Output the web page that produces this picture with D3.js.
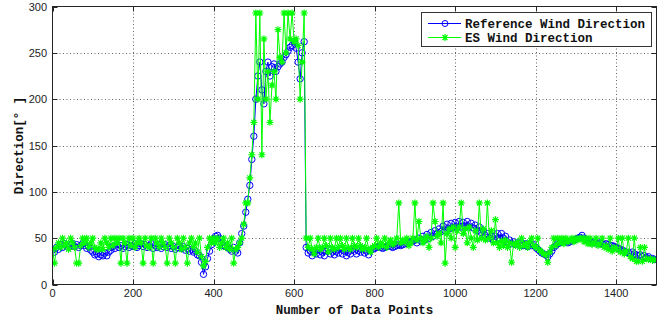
<!DOCTYPE html>
<html>
<head>
<meta charset="utf-8">
<script src="https://cdn.jsdelivr.net/npm/d3@7"></script>
<style>
  body { margin: 0; background: #fff; }
  svg { display: block; }
</style>
</head>
<body>
<svg id="chart" width="669" height="323"></svg>
<script>
// data point numbers (read every 5th point)
const pointIndex = d3.range(0, 1501, 5);

const referenceDirection = [
  37, 35, 40, 38, 43, 40, 44, 41, 40, 43, 44, 41, 43, 40, 42, 44, 42, 39, 41, 37,
  35, 32, 33, 30, 32, 31, 34, 31, 35, 37, 41, 39, 43, 40, 42, 39, 41, 43, 40, 42,
  41, 44, 40, 42, 44, 41, 43, 40, 42, 44, 39, 42, 40, 43, 39, 41, 43, 40, 42, 39,
  41, 38, 40, 42, 39, 41, 37, 39, 36, 38, 35, 36, 32, 31, 24, 11, 19, 28, 36, 43,
  48, 52, 53, 50, 45, 42, 41, 40, 38, 36, 40, 36, 34, 45, 55, 63, 78, 92, 107, 135,
  160, 200, 225, 240, 210, 195, 230, 240, 225, 235, 238, 230, 235, 238, 240, 245, 248, 252, 256, 258,
  262, 255, 240, 222, 250, 262, 40, 34, 36, 31, 35, 33, 37, 32, 35, 31, 36, 38, 33, 35,
  32, 36, 34, 38, 33, 36, 31, 35, 33, 38, 36, 33, 37, 35, 39, 34, 36, 32, 37, 38,
  39, 40, 41, 40, 39, 40, 41, 42, 41, 40, 41, 42, 43, 42, 43, 44, 45, 46, 46, 47,
  48, 45, 50, 47, 52, 48, 54, 50, 56, 52, 58, 55, 60, 57, 63, 58, 65, 60, 66, 61,
  67, 61, 68, 62, 67, 63, 68, 62, 66, 61, 64, 58, 62, 56, 58, 53, 55, 50, 52, 48,
  52, 55, 50, 55, 50, 52, 46, 48, 44, 46, 43, 45, 42, 45, 42, 44, 41, 44, 42, 43,
  40, 38, 36, 34, 33, 32, 30, 33, 36, 40, 42, 44, 45, 46, 47, 46, 45, 46, 47, 48,
  49, 50, 51, 53, 50, 48, 47, 46, 45, 46, 45, 44, 45, 44, 43, 44, 43, 42, 42, 41,
  40, 39, 38, 37, 36, 35, 34, 33, 35, 33, 32, 31, 32, 30, 31, 29, 30, 28, 28, 27,
  27
];

const esDirection = [
  38, 23, 40, 45, 40, 50, 42, 45, 38, 50, 45, 40, 23, 23, 42, 50, 45, 50, 40, 45,
  50, 40, 38, 38, 45, 38, 50, 45, 40, 50, 42, 50, 45, 50, 23, 50, 45, 23, 50, 42,
  50, 40, 45, 50, 45, 23, 50, 42, 40, 50, 23, 50, 45, 40, 50, 45, 40, 23, 50, 45,
  40, 23, 50, 45, 38, 50, 40, 23, 45, 50, 40, 45, 35, 50, 30, 20, 25, 40, 50, 45,
  50, 45, 50, 40, 45, 50, 40, 45, 38, 50, 23, 38, 40, 45, 50, 65, 88, 88, 115, 140,
  175, 293, 200, 293, 140, 265, 200, 230, 175, 215, 230, 200, 275, 245, 240, 293, 250, 293, 265, 293,
  262, 265, 258, 200, 240, 293, 50, 40, 50, 38, 33, 40, 50, 38, 40, 50, 42, 35, 50, 40,
  38, 50, 40, 50, 42, 38, 50, 40, 38, 50, 42, 40, 50, 42, 38, 40, 50, 38, 35, 40,
  42, 50, 40, 45, 42, 50, 40, 45, 48, 43, 45, 50, 88, 45, 48, 46, 50, 42, 45, 50,
  88, 48, 68, 50, 45, 48, 52, 40, 50, 88, 68, 52, 55, 45, 88, 23, 55, 60, 50, 62,
  40, 58, 62, 88, 55, 60, 45, 62, 50, 40, 58, 48, 88, 50, 60, 48, 88, 50, 58, 45,
  70, 45, 40, 47, 42, 48, 40, 45, 24, 44, 42, 46, 40, 50, 42, 44, 40, 46, 50, 42,
  40, 50, 37, 35, 33, 32, 24, 35, 40, 50, 42, 50, 45, 50, 44, 50, 46, 48, 50, 46,
  50, 48, 50, 50, 46, 50, 44, 50, 43, 45, 50, 42, 44, 50, 40, 42, 38, 50, 36, 40,
  38, 50, 35, 50, 33, 36, 50, 30, 28, 50, 25, 25, 40, 25, 40, 28, 27, 28, 26, 27,
  26
];

const xTicks = [0, 200, 400, 600, 800, 1000, 1200, 1400];
const yTicks = [0, 50, 100, 150, 200, 250, 300];
const seriesNames = ['Reference Wind Direction', 'ES Wind Direction'];

const svg = d3.select('#chart');
const plotLeft = 52.5, plotRight = 656.5, plotTop = 6.5, plotBottom = 284.5;

const x = d3.scaleLinear().domain([0, 1500]).range([plotLeft, plotRight]);
const y = d3.scaleLinear().domain([0, 300]).range([plotBottom, plotTop]);

const monoFont = '"Liberation Mono", "Courier New", monospace';

// grid
const grid = svg.append('g').attr('stroke', '#666').attr('stroke-dasharray', '1,2.5').attr('stroke-width', 1);
grid.selectAll('.gx').data(xTicks.slice(1)).enter().append('line')
  .attr('x1', d => Math.round(x(d)) + 0.5).attr('x2', d => Math.round(x(d)) + 0.5)
  .attr('y1', plotTop).attr('y2', plotBottom);
grid.selectAll('.gy').data(yTicks.slice(1, -1)).enter().append('line')
  .attr('x1', plotLeft).attr('x2', plotRight)
  .attr('y1', d => Math.round(y(d)) + 0.5).attr('y2', d => Math.round(y(d)) + 0.5);

// clip
svg.append('clipPath').attr('id', 'plotclip').append('rect')
  .attr('x', plotLeft).attr('y', plotTop - 4).attr('width', plotRight - plotLeft).attr('height', plotBottom - plotTop + 4);

const plot = svg.append('g').attr('clip-path', 'url(#plotclip)');

const refData = pointIndex.map((p, i) => [p, referenceDirection[i]]);
const esData = pointIndex.map((p, i) => [p, esDirection[i]]);
const line = d3.line().x(d => x(d[0])).y(d => y(d[1]));

// reference series: blue line with circles
plot.append('path').datum(refData)
  .attr('fill', 'none').attr('stroke', '#0000ff').attr('stroke-width', 1)
  .attr('d', line);
plot.append('g').selectAll('circle').data(refData).enter().append('circle')
  .attr('cx', d => x(d[0])).attr('cy', d => y(d[1])).attr('r', 3.2)
  .attr('fill', 'none').attr('stroke', '#0000ff').attr('stroke-width', 1);

// ES series: green line with asterisks
const star = 'M-3.5,0H3.5M0,-3.5V3.5M-2.5,-2.5L2.5,2.5M-2.5,2.5L2.5,-2.5';
plot.append('path').datum(esData)
  .attr('fill', 'none').attr('stroke', '#00ff00').attr('stroke-width', 1)
  .attr('d', line);
plot.append('g').selectAll('path').data(esData).enter().append('path')
  .attr('transform', d => `translate(${x(d[0])},${y(d[1])})`)
  .attr('d', star).attr('fill', 'none').attr('stroke', '#00ff00').attr('stroke-width', 1.2);

// axes box and ticks
const axisColor = '#262626';
svg.append('rect').attr('x', plotLeft).attr('y', plotTop).attr('width', plotRight - plotLeft).attr('height', plotBottom - plotTop)
  .attr('fill', 'none').attr('stroke', axisColor).attr('stroke-width', 1);

const ticks = svg.append('g').attr('stroke', axisColor).attr('stroke-width', 1);
xTicks.forEach(t => {
  const px = Math.round(x(t)) + 0.5;
  ticks.append('line').attr('x1', px).attr('x2', px).attr('y1', plotBottom).attr('y2', plotBottom - 5);
  ticks.append('line').attr('x1', px).attr('x2', px).attr('y1', plotTop).attr('y2', plotTop + 5);
});
yTicks.forEach(t => {
  const py = Math.round(y(t)) + 0.5;
  ticks.append('line').attr('x1', plotLeft).attr('x2', plotLeft + 5).attr('y1', py).attr('y2', py);
  ticks.append('line').attr('x1', plotRight).attr('x2', plotRight - 5).attr('y1', py).attr('y2', py);
});

// tick labels
svg.append('g').selectAll('text').data(xTicks).enter().append('text')
  .attr('x', d => x(d)).attr('y', 297)
  .attr('text-anchor', 'middle')
  .attr('font-family', '"Liberation Sans", Arial, sans-serif').attr('font-size', 11)
  .attr('fill', '#222').text(d => d);
svg.append('g').selectAll('text').data(yTicks).enter().append('text')
  .attr('x', 47).attr('y', d => y(d) + 4)
  .attr('text-anchor', 'end')
  .attr('font-family', '"Liberation Sans", Arial, sans-serif').attr('font-size', 11)
  .attr('fill', '#222').text(d => d);

// axis titles
svg.append('text').attr('x', (plotLeft + plotRight) / 2).attr('y', 314)
  .attr('text-anchor', 'middle').attr('font-family', monoFont)
  .attr('font-weight', 'bold').attr('font-size', 12.5).attr('fill', '#111')
  .text('Number of Data Points');
svg.append('text').attr('transform', `translate(23,${(plotTop + plotBottom) / 2}) rotate(-90)`)
  .attr('text-anchor', 'middle').attr('font-family', monoFont)
  .attr('font-weight', 'bold').attr('font-size', 12.5).attr('fill', '#111')
  .text('Direction[° ]');

// legend
const legend = svg.append('g');
legend.append('rect').attr('x', 421.5).attr('y', 12.5).attr('width', 230).attr('height', 34)
  .attr('fill', '#fff').attr('stroke', '#333').attr('stroke-width', 1);
const rows = [23.5, 37.5];
legend.append('line').attr('x1', 428).attr('x2', 461).attr('y1', rows[0]).attr('y2', rows[0])
  .attr('stroke', '#0000ff').attr('stroke-width', 1);
legend.append('circle').attr('cx', 445).attr('cy', rows[0]).attr('r', 3)
  .attr('fill', 'none').attr('stroke', '#0000ff').attr('stroke-width', 1);
legend.append('line').attr('x1', 428).attr('x2', 461).attr('y1', rows[1]).attr('y2', rows[1])
  .attr('stroke', '#00ff00').attr('stroke-width', 1);
legend.append('path').attr('transform', `translate(445,${rows[1]})`).attr('d', star)
  .attr('fill', 'none').attr('stroke', '#00ff00').attr('stroke-width', 1.2);
legend.selectAll('.lt').data(seriesNames).enter().append('text')
  .attr('x', 465).attr('y', (d, i) => rows[i] + 4)
  .attr('font-family', monoFont).attr('font-weight', 'bold').attr('font-size', 12.5)
  .attr('fill', '#111').text(d => d);
</script>
</body>
</html>
